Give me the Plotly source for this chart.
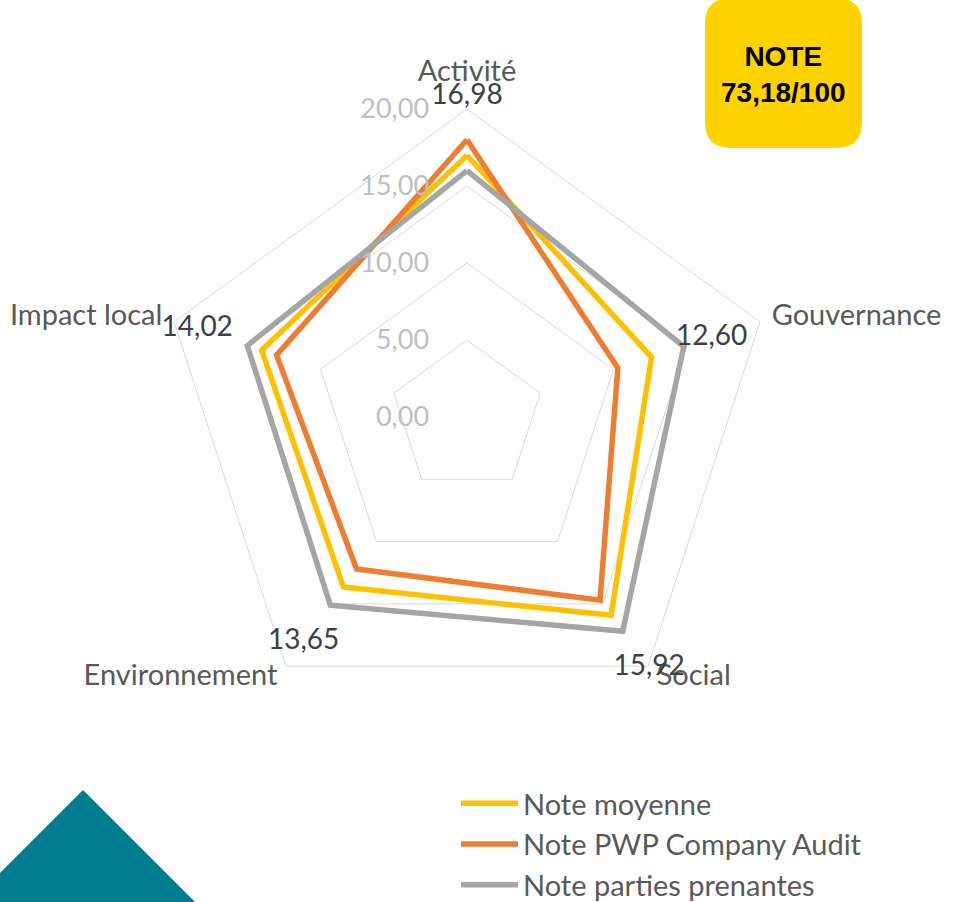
import plotly.graph_objects as go

# axes of the radar (clockwise from the top)
categories = ["Activité", "Gouvernance", "Social", "Environnement", "Impact local"]

# scores out of 20
note_moyenne = [16.98, 12.60, 15.92, 13.65, 14.02]
note_pwp = [18.0, 10.3, 14.7, 12.2, 13.0]
note_parties = [16.0, 14.8, 17.2, 15.1, 15.0]

radial_ticks = [0, 5, 10, 15, 20]
radial_labels = ["0,00", "5,00", "10,00", "15,00", "20,00"]

note_totale = "73,18/100"

W, H = 953, 902
FONT = "Lato"

# the radial range is padded past 20 so labels can sit outside the last grid
R_MAX = 24
# category label placement (radius in score units, text anchor)
cat_r = [22.3, 20.8, 20.95, 20.95, 20.8]
cat_pos = ["middle center", "middle right", "middle right", "middle left", "middle left"]
# how far (in score units) the data labels sit outside their point
label_pad = [3.8, 4.1, 4.2, 4.4, 4.4]


def closed(vals):
    return list(vals) + [vals[0]]


def fr(v):
    return f"{v:.2f}".replace(".", ",")


series = [
    ("Note moyenne", note_moyenne, "#FFC000"),
    ("Note PWP Company Audit", note_pwp, "#ED7D31"),
    ("Note parties prenantes", note_parties, "#A5A5A5"),
]

fig = go.Figure()
for name, vals, color in series:
    fig.add_trace(go.Scatterpolar(
        r=closed(vals), theta=closed(categories), name=name,
        mode="lines", line=dict(color=color, width=5.5),
    ))

# category names around the chart
fig.add_trace(go.Scatterpolar(
    r=cat_r, theta=categories, mode="text", text=categories, textposition=cat_pos,
    textfont=dict(family=FONT, size=29, color="#595959"),
    showlegend=False, cliponaxis=False, hoverinfo="skip",
))

# data labels of the average score, pushed outward like in Excel
fig.add_trace(go.Scatterpolar(
    r=[v + d for v, d in zip(note_moyenne, label_pad)], theta=categories,
    mode="text", text=[fr(v) for v in note_moyenne], textposition="middle center",
    textfont=dict(family=FONT, size=28, color="#404040"),
    showlegend=False, cliponaxis=False, hoverinfo="skip",
))

cx, cy = 467, 417
R = 308 * R_MAX / 20
fig.update_layout(
    width=W, height=H,
    margin=dict(l=0, r=0, t=0, b=0, autoexpand=False),
    paper_bgcolor="white",
    font=dict(family=FONT, color="#595959"),
    polar=dict(
        domain=dict(x=[(cx - R) / W, (cx + R) / W], y=[1 - (cy + R) / H, 1 - (cy - R) / H]),
        bgcolor="white",
        gridshape="linear",
        radialaxis=dict(
            range=[0, R_MAX], tickvals=radial_ticks, ticktext=radial_labels,
            angle=90, tickangle=90, side="counterclockwise", showline=False,
            ticks="outside", ticklen=28, tickcolor="rgba(0,0,0,0)",
            gridcolor="#D9D9D9", gridwidth=1,
            tickfont=dict(family=FONT, size=27, color="#BFBFBF"),
        ),
        angularaxis=dict(
            rotation=90, direction="clockwise", showgrid=False,
            showline=False, ticks="", showticklabels=False,
        ),
    ),
    legend=dict(
        x=456 / W, y=1 - 778 / H, xanchor="left", yanchor="top",
        font=dict(family=FONT, size=29, color="#595959"),
        itemwidth=57, bgcolor="rgba(0,0,0,0)",
    ),
)


def px(x, y):
    return x / W, 1 - y / H


# yellow rounded box with the total score
x0, x1, y0, y1, rr = 705, 862, -2, 148, 26
pts = [px(x0 + rr, y0), px(x1 - rr, y0), px(x1, y0), px(x1, y0 + rr),
       px(x1, y1 - rr), px(x1, y1), px(x1 - rr, y1), px(x0 + rr, y1),
       px(x0, y1), px(x0, y1 - rr), px(x0, y0 + rr), px(x0, y0)]
p = ["%.5f,%.5f" % q for q in pts]
box_path = (f"M{p[0]} L{p[1]} Q{p[2]} {p[3]} L{p[4]} Q{p[5]} {p[6]} "
            f"L{p[7]} Q{p[8]} {p[9]} L{p[10]} Q{p[11]} {p[0]} Z")
fig.add_shape(type="path", path=box_path, xref="paper", yref="paper",
              fillcolor="#FFD200", line=dict(width=0), layer="below")
fig.add_annotation(
    x=783 / W, y=1 - 74 / H, xref="paper", yref="paper",
    xanchor="center", yanchor="middle",
    text="<b>NOTE<br>" + note_totale + "</b>", showarrow=False,
    font=dict(family="Liberation Sans", size=28, color="black"), align="center",
)

# teal triangle bottom left
tri = [px(0, 873), px(83, 790), px(195, 902), px(0, 902)]
t = ["%.5f,%.5f" % q for q in tri]
fig.add_shape(type="path", path=f"M{t[0]} L{t[1]} L{t[2]} L{t[3]} Z",
              xref="paper", yref="paper", fillcolor="#007C8F", line=dict(width=0))

# the page body has a default 8px margin; drop it so the figure fills the window
fig.write_html("out.html", config={"displayModeBar": False},
               post_script="document.body.style.margin='0px';")
